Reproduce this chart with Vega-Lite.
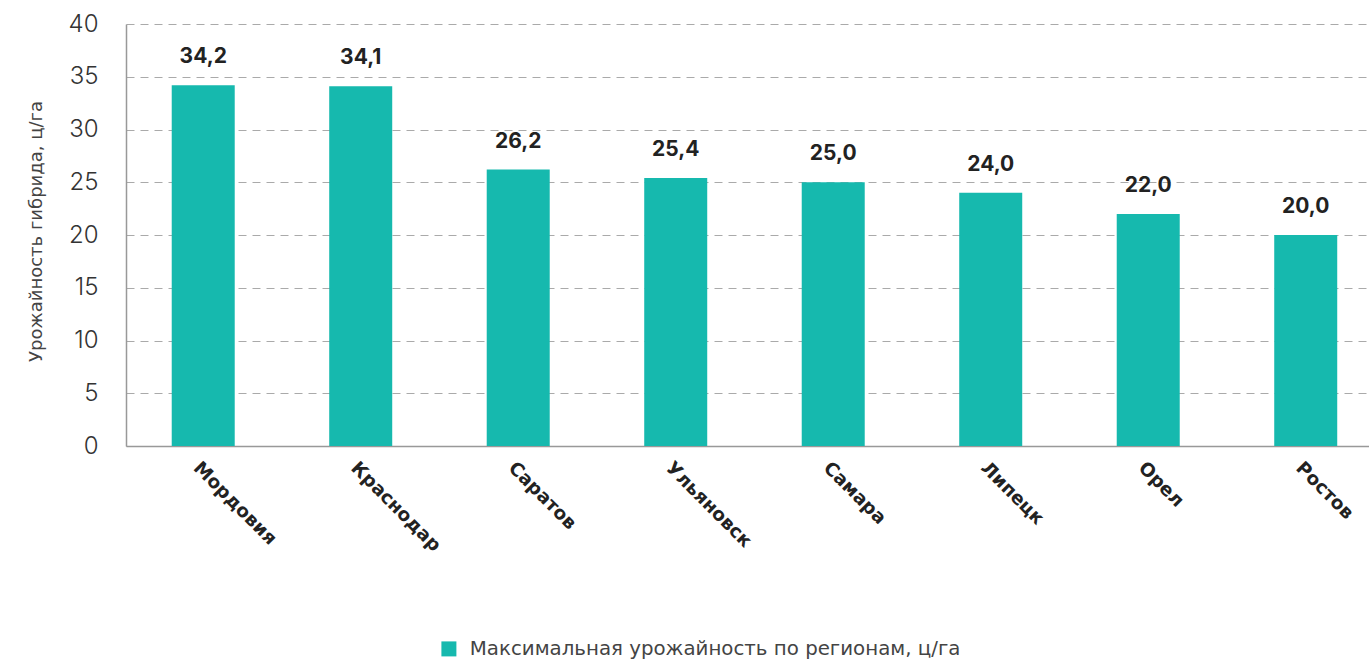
{
  "$schema": "https://vega.github.io/schema/vega-lite/v6.json",
  "width": 1243,
  "height": 422,
  "autosize": {"type": "none"},
  "padding": {"left": 126, "top": 24, "right": 0, "bottom": 213},
  "background": "white",
  "config": {
    "locale": {"number": {"decimal": ",", "thousands": " ", "grouping": [3], "currency": ["", " ₽"]}},
    "view": {"stroke": null},
    "font": "Inter"
  },
  "data": {
    "values": [
      {"region": "Мордовия", "value": 34.2},
      {"region": "Краснодар", "value": 34.1},
      {"region": "Саратов", "value": 26.2},
      {"region": "Ульяновск", "value": 25.4},
      {"region": "Самара", "value": 25.0},
      {"region": "Липецк", "value": 24.0},
      {"region": "Орел", "value": 22.0},
      {"region": "Ростов", "value": 20.0}
    ]
  },
  "encoding": {
    "x": {
      "field": "region",
      "type": "nominal",
      "sort": null,
      "scale": {"paddingInner": 0.6, "paddingOuter": 0.246, "align": 0.59},
      "axis": {
        "title": null,
        "labelAngle": 45,
        "labelFont": "DejaVu Sans",
        "labelFontSize": 18.5,
        "labelFontWeight": "bold",
        "labelColor": "#222",
        "ticks": false,
        "domainColor": "#999",
        "domainWidth": 1.5,
        "labelPadding": 12,
        "labelAlign": "left",
        "labelBaseline": "top",
        "grid": false
      }
    },
    "y": {
      "field": "value",
      "type": "quantitative",
      "scale": {"domain": [0, 40], "nice": false},
      "axis": {
        "title": "Урожайность гибрида, ц/га",
        "values": [0, 5, 10, 15, 20, 25, 30, 35, 40],
        "ticks": false,
        "domain": true,
        "domainColor": "#999",
        "domainWidth": 1.5,
        "grid": true,
        "gridDash": [8, 6],
        "gridColor": "#aaa",
        "gridWidth": 1,
        "labelFont": "Inter",
        "labelFontSize": 24,
        "labelFontWeight": 300,
        "labelColor": "#333",
        "labelPadding": 28,
        "titleFont": "DejaVu Sans",
        "titleFontSize": 18,
        "titleFontWeight": "normal",
        "titleColor": "#444",
        "titleX": -90,
        "titleY": 207,
        "titleAngle": -90,
        "titleAlign": "center",
        "titleBaseline": "middle"
      }
    }
  },
  "layer": [
    {
      "mark": {"type": "bar", "color": "#16b9ae"},
      "encoding": {
        "color": {
          "datum": "Максимальная урожайность по регионам, ц/га",
          "scale": {"range": ["#16b9ae"]},
          "legend": {
            "orient": "none",
            "legendX": 313,
            "legendY": 615,
            "title": null,
            "symbolType": "square",
            "symbolSize": 225,
            "symbolStrokeWidth": 0,
            "symbolOpacity": 1,
            "labelFont": "DejaVu Sans",
            "labelFontSize": 19.8,
            "labelColor": "#444",
            "labelOffset": 11,
            "labelLimit": 0,
            "padding": 0
          }
        }
      }
    },
    {
      "mark": {"type": "text", "dy": -22, "baseline": "alphabetic", "fontSize": 21, "fontWeight": "bold", "color": "#222"},
      "encoding": {
        "text": {"field": "value", "type": "quantitative", "format": ".1f"}
      }
    }
  ]
}
